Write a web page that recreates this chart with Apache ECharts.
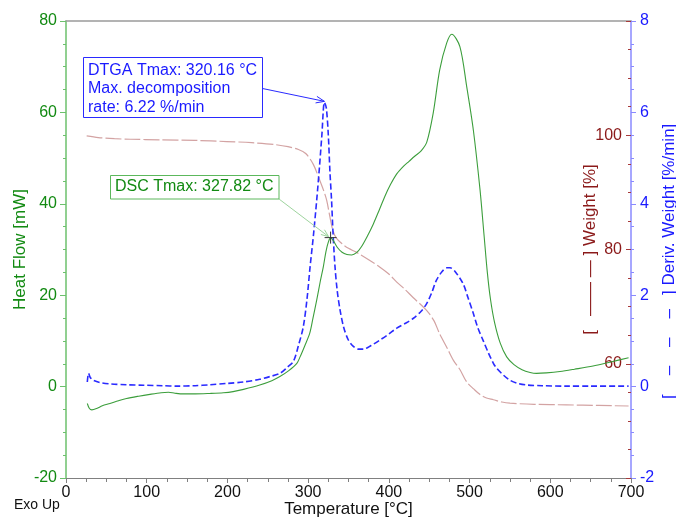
<!DOCTYPE html>
<html>
<head>
<meta charset="utf-8">
<script src="https://cdn.jsdelivr.net/npm/echarts@6/dist/echarts.min.js"></script>
<style>
  html, body { margin: 0; padding: 0; background: #fff; }
  #chart { width: 676px; height: 520px; }
</style>
</head>
<body>
<div id="chart"></div>
<script>
// ---- Measured curves (temperature in °C) ----
const dscTemp = [26.4, 29, 32, 38, 45, 54.5, 65, 75, 90, 104, 118, 127, 135, 145, 160, 178, 195, 207, 220, 240,
  255, 265, 276, 286, 290, 296, 302, 306, 310.6, 315, 318.8, 322, 325, 327.82, 331, 336, 342, 348, 354, 360,
  366, 373, 380.8, 388, 395, 402, 410, 418, 425, 432, 440, 447, 455, 463, 471.7, 478, 488, 496.5, 504.7, 513,
  518, 522, 526, 531, 538, 546, 555, 565, 575, 583, 595, 612, 630, 653, 675, 697];
const dscHeatFlow = [-3.7, -4.8, -5.1, -4.8, -4.2, -3.7, -3.1, -2.6, -2.1, -1.7, -1.35, -1.25, -1.45, -1.6, -1.6, -1.5, -1.35, -1.1, -0.6, 0.35,
  1.3, 2.2, 3.5, 5.1, 6.5, 9.0, 11.7, 15, 18.9, 23, 26.2, 29.5, 31.6, 32.6, 32.0, 30.5, 29.4, 28.9, 28.8, 29.3,
  30.6, 32.8, 35.6, 38.6, 41.6, 44.2, 46.6, 48.2, 49.3, 50.4, 51.6, 53.5, 59.9, 69.3, 75.2, 77.1, 74.4, 65.6, 56.1, 43,
  33, 25, 19, 14, 9.5, 6.5, 4.8, 3.7, 3.1, 2.9, 3.0, 3.3, 3.8, 4.5, 5.4, 6.3];

const tgaTemp = [25.6, 40, 60, 80, 116.5, 160, 199, 230, 257, 275, 288, 297, 306.4, 314.7, 319, 323, 327, 330.7, 335, 342,
  350, 360, 375, 389, 400, 409.8, 420, 430, 447, 456, 463, 472, 480, 488, 496.5, 505, 513, 521, 529.5, 540,
  550, 580, 620, 660, 697];
const tgaWeight = [99.9, 99.6, 99.4, 99.3, 99.2, 99.1, 98.9, 98.7, 98.4, 98.0, 97.5, 96.8, 94.9, 92, 90.4, 88.6, 85.7, 83.3, 82, 81,
  80.2, 79.5, 78.2, 76.9, 75.7, 74.3, 73, 71.6, 69.3, 67.5, 65.2, 62.8, 60.6, 59.0, 56.8, 55.6, 54.6, 54.0, 53.7, 53.3,
  53.1, 52.9, 52.8, 52.7, 52.6];

const dtgTemp = [26.4, 28, 30, 33.8, 42, 54.5, 75, 95.8, 120, 137, 160, 178, 200, 219.7, 240, 252.8, 265, 274, 281.7, 288,
  294, 298.5, 302.4, 306.5, 310.6, 314, 317, 320.16, 322.5, 325, 327, 329, 331, 333.3, 336, 339.5, 344, 349.8, 356, 362,
  368.4, 378, 389, 400, 409.8, 420, 430, 440, 447, 453, 459, 466, 472, 475.8, 482, 492, 498, 504.7, 510, 517,
  523, 529.5, 533.7, 542, 550, 560, 571, 590, 620, 650, 697];
const dtgRate = [0.1, 0.29, 0.2, 0.14, 0.09, 0.06, 0.04, 0.03, 0.02, 0.01, 0.02, 0.04, 0.07, 0.1, 0.16, 0.22, 0.29, 0.42, 0.55, 0.9,
  1.31, 1.9, 2.62, 3.3, 4.08, 4.8, 5.5, 6.22, 6.1, 5.5, 4.7, 4.08, 3.3, 2.62, 2.1, 1.68, 1.3, 1.02, 0.88, 0.82,
  0.82, 0.9, 1.02, 1.15, 1.28, 1.38, 1.49, 1.65, 1.82, 2.05, 2.33, 2.52, 2.6, 2.6, 2.52, 2.25, 1.95, 1.6, 1.3, 1.0,
  0.75, 0.51, 0.4, 0.25, 0.14, 0.07, 0.035, 0.02, 0.01, 0.01, 0.01];

// ---- Axis ticks ----
const tempTicks = [0, 100, 200, 300, 400, 500, 600, 700];
const heatFlowTicks = [-20, 0, 20, 40, 60, 80];
const rateTicks = [-2, 0, 2, 4, 6, 8];
const weightTicks = [40, 60, 80, 100, 120];
const weightLabels = [60, 80, 100];

// ---- Peak annotations ----
const dtgPeak = { temp: 320.16, rate: 6.22 };
const dscPeak = { temp: 327.82, heatFlow: 32.6 };

const FONT = '"Liberation Sans", Arial, sans-serif';
const GREEN = '#3c9e3c', GREEN_TXT = '#128a12', GREEN_AXIS = '#6cc06c';
const BLUE = '#2a2aff', BLUE_TXT = '#1a1aff', BLUE_AXIS = '#8a8aff';
const RED_TXT = '#8b1a1a', RED_TICK = '#a83a3a', PINK = '#d3a3a3';

const zip = (xs, ys) => xs.map((x, i) => [x, ys[i]]);
const ext = a => ({ min: a[0], max: a[a.length - 1], interval: a[1] - a[0] });

const chart = echarts.init(document.getElementById('chart'), null, { renderer: 'canvas' });

chart.setOption({
  animation: false,
  backgroundColor: '#fff',
  textStyle: { fontFamily: FONT },
  grid: { left: 66, right: 45, top: 21, bottom: 42, containLabel: false, outerBoundsMode: 'none' },
  xAxis: [{
    type: 'value', position: 'bottom', ...ext(tempTicks),
    name: 'Temperature [°C]', nameLocation: 'middle', nameGap: 23, nameMoveOverlap: false,
    nameTextStyle: { fontSize: 17, color: '#111', fontFamily: FONT },
    axisLine: { onZero: false, lineStyle: { color: '#808080', width: 1 } },
    axisTick: { length: 5, lineStyle: { color: '#808080' } },
    minorTick: { show: true, splitNumber: 4, length: 4, lineStyle: { color: '#808080' } },
    axisLabel: { fontSize: 16, color: '#111', margin: 7, fontFamily: FONT },
    splitLine: { show: false }
  }, {
    type: 'value', position: 'top', ...ext(tempTicks),
    axisLine: { show: true, onZero: false, lineStyle: { color: '#9a9a9a', width: 1.5 } },
    axisTick: { show: false }, axisLabel: { show: false }, splitLine: { show: false }
  }],
  yAxis: [{
    type: 'value', position: 'left', ...ext(heatFlowTicks),
    name: 'Heat Flow [mW]', nameLocation: 'middle', nameGap: 37, nameMoveOverlap: false,
    nameTextStyle: { fontSize: 17, color: GREEN_TXT, fontFamily: FONT },
    axisLine: { show: true, onZero: false, lineStyle: { color: GREEN_AXIS, width: 1.5 } },
    axisTick: { show: true, length: 6, lineStyle: { color: GREEN_AXIS } },
    minorTick: { show: true, splitNumber: 4, length: 3, lineStyle: { color: GREEN_AXIS } },
    axisLabel: { fontSize: 16, color: GREEN_TXT, margin: 9, fontFamily: FONT },
    splitLine: { show: false }
  }, {
    type: 'value', position: 'right', ...ext(rateTicks),
    name: '[    –    –    –   ] Deriv. Weight [%/min]     ', nameLocation: 'middle', nameGap: 30, nameMoveOverlap: false,
    nameTextStyle: { fontSize: 17, color: BLUE_TXT, fontFamily: FONT },
    axisLine: { show: true, onZero: false, lineStyle: { color: BLUE_AXIS, width: 1.5 } },
    axisTick: { show: true, length: 5, lineStyle: { color: BLUE_AXIS } },
    minorTick: { show: true, splitNumber: 4, length: 3, lineStyle: { color: BLUE_AXIS } },
    axisLabel: { fontSize: 16, color: BLUE_TXT, margin: 9, fontFamily: FONT },
    splitLine: { show: false }
  }, {
    type: 'value', position: 'right', ...ext(weightTicks),
    name: '[   —— — ] Weight [%]', nameLocation: 'middle', nameGap: -49, nameMoveOverlap: false,
    nameTextStyle: { fontSize: 17, color: RED_TXT, fontFamily: FONT },
    axisLine: { show: false, onZero: false },
    axisTick: { show: true, inside: true, length: 5, lineStyle: { color: RED_TICK } },
    minorTick: { show: true, splitNumber: 4, length: 3, lineStyle: { color: RED_TICK } },
    axisLabel: {
      inside: true, fontSize: 16, color: RED_TXT, margin: 9, fontFamily: FONT,
      formatter: v => weightLabels.includes(v) ? String(v) : ''
    },
    splitLine: { show: false }
  }],
  series: [{
    name: 'Weight', type: 'line', xAxisIndex: 0, yAxisIndex: 2,
    data: zip(tgaTemp, tgaWeight), smooth: 0.3, showSymbol: false, symbol: 'none',
    lineStyle: { color: PINK, width: 1.2, type: [16, 3] }, z: 2
  }, {
    name: 'Deriv. Weight', type: 'line', xAxisIndex: 0, yAxisIndex: 1,
    data: zip(dtgTemp, dtgRate), smooth: 0.3, showSymbol: false, symbol: 'none',
    lineStyle: { color: BLUE, width: 1.6, type: [6, 3] }, z: 3
  }, {
    name: 'Heat Flow', type: 'line', xAxisIndex: 0, yAxisIndex: 0,
    data: zip(dscTemp, dscHeatFlow), smooth: 0.3, showSymbol: false, symbol: 'none',
    lineStyle: { color: GREEN, width: 1.1 }, z: 4
  }]
});

// ---- Annotation boxes with arrows pointing at the peaks ----
function arrow(from, to, color, len) {
  const a = Math.atan2(to[1] - from[1], to[0] - from[0]);
  const s = 0.38;
  return [{
    type: 'line', silent: true, z: 10,
    shape: { x1: from[0], y1: from[1], x2: to[0], y2: to[1] },
    style: { stroke: color, lineWidth: 1 }
  }, {
    type: 'polyline', silent: true, z: 10,
    shape: { points: [
      [to[0] - len * Math.cos(a - s), to[1] - len * Math.sin(a - s)],
      to,
      [to[0] - len * Math.cos(a + s), to[1] - len * Math.sin(a + s)]
    ] },
    style: { stroke: color, lineWidth: 1, fill: null }
  }];
}

const dtgPx = chart.convertToPixel({ xAxisIndex: 0, yAxisIndex: 1 }, [dtgPeak.temp, dtgPeak.rate]);
const dscPx = chart.convertToPixel({ xAxisIndex: 0, yAxisIndex: 0 }, [dscPeak.temp, dscPeak.heatFlow]);

const blueBox = { x: 83.5, y: 57.5, w: 179, h: 60 };
const greenBox = { x: 110.5, y: 175.5, w: 168.5, h: 23.5 };

chart.setOption({
  graphic: [
    {
      type: 'rect', silent: true, z: 11,
      shape: { x: blueBox.x, y: blueBox.y, width: blueBox.w, height: blueBox.h },
      style: { fill: '#fff', stroke: BLUE, lineWidth: 1 }
    },
    {
      type: 'text', silent: true, z: 12, left: 88, top: 61,
      style: {
        text: 'DTGA Tmax: ' + dtgPeak.temp.toFixed(2) + ' °C\nMax. decomposition\nrate: ' + dtgPeak.rate.toFixed(2) + ' %/min',
        font: '16px ' + FONT, fill: BLUE_TXT, lineHeight: 18.6
      }
    },
    ...arrow([blueBox.x + blueBox.w, 88.5], [dtgPx[0], dtgPx[1] - 1], BLUE, 9),
    {
      type: 'rect', silent: true, z: 11,
      shape: { x: greenBox.x, y: greenBox.y, width: greenBox.w, height: greenBox.h },
      style: { fill: '#fff', stroke: '#5cb85c', lineWidth: 1 }
    },
    {
      type: 'text', silent: true, z: 12, left: 115, top: 178,
      style: {
        text: 'DSC Tmax: ' + dscPeak.temp.toFixed(2) + ' °C',
        font: '16px ' + FONT, fill: GREEN_TXT, lineHeight: 18
      }
    },
    ...arrow([greenBox.x + greenBox.w, greenBox.y + greenBox.h], [dscPx[0] - 2, dscPx[1] - 1], '#9ed49e', 8),
    {
      type: 'polyline', silent: true, z: 12,
      shape: { points: [[dscPx[0] - 6, dscPx[1]], [dscPx[0] + 6, dscPx[1]]] },
      style: { stroke: '#333', lineWidth: 1 }
    },
    {
      type: 'polyline', silent: true, z: 12,
      shape: { points: [[dscPx[0], dscPx[1] - 6], [dscPx[0], dscPx[1] + 6]] },
      style: { stroke: '#333', lineWidth: 1 }
    },
    {
      type: 'text', silent: true, z: 12, left: 14, top: 498,
      style: { text: 'Exo Up', font: '14px ' + FONT, fill: '#111' }
    }
  ]
});
</script>
</body>
</html>
